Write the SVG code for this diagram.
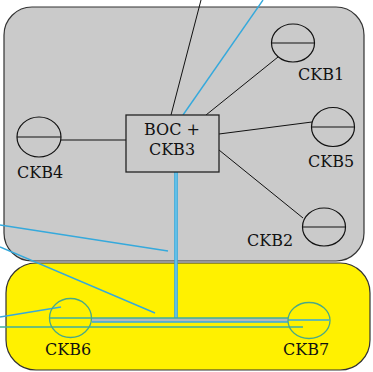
<svg xmlns="http://www.w3.org/2000/svg" width="373" height="372" viewBox="0 0 373 372">
  <style>
    .zone { stroke: #333; stroke-width: 1.2; }
    .gray { fill: #cacaca; }
    .yellow { fill: #fff100; }
    .well { fill: none; stroke: #111; stroke-width: 1.2; }
    .well-g { fill: none; stroke: #4aa986; stroke-width: 1.3; }
    .wire { stroke: #111; stroke-width: 1; fill: none; }
    .pipe { stroke: #35a9dc; stroke-width: 1.4; fill: none; }
    .pipe-g { stroke: #3fae9c; stroke-width: 1.4; fill: none; }
    .lbl { font-family: "DejaVu Serif", serif; font-size: 16px; fill: #111; }
  </style>

  <!-- Zones -->
  <rect id="zone-upper" class="zone gray" x="4" y="7" width="360" height="254" rx="28" ry="28"/>
  <rect id="zone-lower" class="zone yellow" x="6" y="263" width="364" height="107" rx="30" ry="30"/>

  <g id="connectors">
    <!-- black links from the central box -->
    <line class="wire" x1="171" y1="115" x2="201" y2="0"/>
    <line class="wire" x1="206" y1="115" x2="278" y2="57"/>
    <line class="wire" x1="219" y1="134" x2="312" y2="122"/>
    <line class="wire" x1="219" y1="150" x2="303" y2="218"/>
    <line class="wire" x1="61" y1="140" x2="126" y2="140"/>
    <!-- blue lines -->
    <line class="pipe" x1="183" y1="115" x2="263" y2="0"/>
    <line class="pipe" x1="0" y1="225" x2="168" y2="251"/>
    <line class="pipe" x1="0" y1="247" x2="155" y2="313"/>
    <line class="pipe" x1="0" y1="317" x2="61" y2="307"/>
    <line class="pipe-g" x1="0" y1="327" x2="303" y2="327"/>
    <!-- vertical trunk -->
    <line x1="176" y1="172" x2="176" y2="320" stroke="#35a9dc" stroke-width="3.6"/>
    <line x1="176" y1="172" x2="176" y2="318" stroke="#8fd4f2" stroke-width="1"/>
    <!-- horizontal trunk between CKB6 and CKB7 -->
    <rect x="92" y="318" width="196" height="4" fill="#b8b8b8"/>
    <line class="pipe-g" x1="50" y1="318" x2="288" y2="318"/>
    <line class="pipe" x1="92" y1="322" x2="288" y2="322"/>
    <line class="pipe" x1="288" y1="320" x2="329" y2="320"/>
  </g>

  <g id="node-bocckb3">
    <rect x="126" y="115" width="93" height="57" fill="#cacaca" stroke="#222" stroke-width="1.3"/>
    <text class="lbl" x="172" y="135" text-anchor="middle">BOC +</text>
    <text class="lbl" x="172" y="155" text-anchor="middle">CKB3</text>
  </g>

  <g id="node-ckb1">
    <ellipse class="well" cx="293" cy="43" rx="21.5" ry="19"/>
    <line class="well" x1="271.5" y1="43" x2="314.5" y2="43"/>
    <text class="lbl" x="298" y="80">CKB1</text>
  </g>

  <g id="node-ckb5">
    <ellipse class="well" cx="333" cy="127" rx="21.5" ry="19.5"/>
    <line class="well" x1="311.5" y1="127" x2="354.5" y2="127"/>
    <text class="lbl" x="308" y="167">CKB5</text>
  </g>

  <g id="node-ckb4">
    <ellipse class="well" cx="39" cy="137" rx="22" ry="20"/>
    <line class="well" x1="17" y1="137" x2="61" y2="137"/>
    <text class="lbl" x="17" y="178">CKB4</text>
  </g>

  <g id="node-ckb2">
    <ellipse class="well" cx="324" cy="227" rx="21.5" ry="19"/>
    <line class="well" x1="302.5" y1="227" x2="345.5" y2="227"/>
    <text class="lbl" x="247" y="246">CKB2</text>
  </g>

  <g id="node-ckb6">
    <ellipse class="well-g" cx="70.5" cy="318" rx="21" ry="19.5"/>
    <text class="lbl" x="45" y="355">CKB6</text>
  </g>

  <g id="node-ckb7">
    <ellipse class="well-g" cx="309" cy="320.5" rx="21" ry="18"/>
    <text class="lbl" x="283" y="355">CKB7</text>
  </g>
</svg>
